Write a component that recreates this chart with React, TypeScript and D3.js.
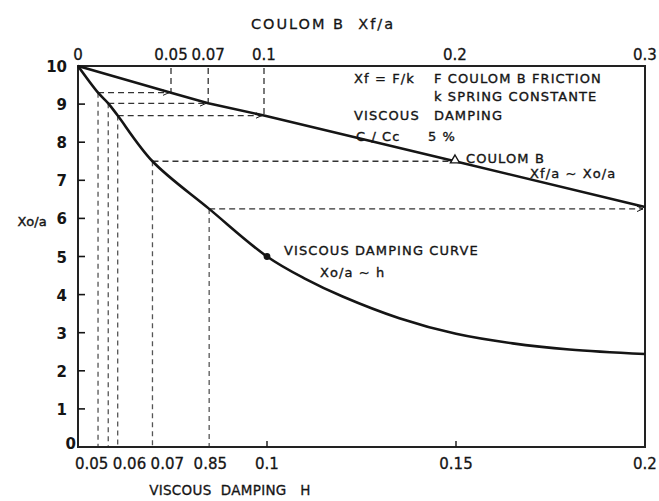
import React from "react";
import * as d3 from "d3";

// Coulomb friction line: Xf/a (top axis) vs Xo/a
const coulombXf = [0, 0.05, 0.07, 0.1, 0.2, 0.3];
const coulombXo = [10, 9.3, 9.02, 8.7, 7.5, 6.3];

// Viscous damping curve: h (bottom axis) vs Xo/a
const viscousH = [0.05, 0.0553, 0.058, 0.0605, 0.0697, 0.0847, 0.1, 0.11, 0.12, 0.135, 0.15, 0.165, 0.18, 0.2];
const viscousXo = [10, 9.3, 9.02, 8.7, 7.5, 6.25, 5.0, 4.42, 3.95, 3.38, 2.97, 2.72, 2.56, 2.44];

// Read-across construction lines (Coulomb Xf -> level Xo/a -> viscous h)
const readXf = [0.05, 0.07, 0.1, 0.2, 0.3];
const readXo = [9.3, 9.02, 8.7, 7.5, 6.25];
const readH = [0.0553, 0.058, 0.0605, 0.0697, 0.0847];

// Axis ticks
const yTicks = [0, 1, 2, 3, 4, 5, 6, 7, 8, 9, 10];
const topTicks = [0, 0.05, 0.07, 0.1, 0.2, 0.3];
const topTickLabels = ["0", "0.05", "0.07", "0.1", "0.2", "0.3"];
const bottomTicks = [0.05, 0.06, 0.07, 0.085, 0.1, 0.15, 0.2];
const bottomTickLabels = ["0.05", "0.06", "0.07", "0.85", "0.1", "0.15", "0.2"];

const W = 659;
const H = 501;
const L = 78, R = 645, T = 66, B = 447;
const INK = "#151515";
const FONT = "'DejaVu Sans', Verdana, sans-serif";

export default function App() {
  const y = d3.scaleLinear().domain([0, 10]).range([B, T]);
  const xTop = d3.scaleLinear().domain([0, 0.1, 0.2, 0.3]).range([L, 264, 455, R]);
  const xBot = d3.scaleLinear().domain([0.05, 0.2]).range([L, R]);

  const coulombLine = d3
    .line<number>()
    .x((_, i) => xTop(coulombXf[i]))
    .y((d) => y(d))(coulombXo) as string;

  const viscousLine = d3
    .line<number>()
    .x((_, i) => xBot(viscousH[i]))
    .y((d) => y(d))
    .curve(d3.curveCatmullRom.alpha(0.5))(viscousXo) as string;

  const tri = d3.symbol().type(d3.symbolTriangle).size(36)() as string;

  return (
    <svg width={W} height={H} style={{ position: "absolute", left: 0, top: 0, background: "#fff" }} fontFamily={FONT}>
      <defs>
        <marker id="arr" viewBox="0 0 10 10" refX="9" refY="5" markerWidth="7" markerHeight="7" orient="auto" markerUnits="userSpaceOnUse">
          <path d="M0,1 L9,5 L0,9" fill="none" stroke={INK} strokeWidth={1.4} />
        </marker>
      </defs>
      <rect x={0} y={0} width={W} height={H} fill="#fff" />

      {/* title */}
      <text x={323} y={29} textAnchor="middle" fontSize={14.5} letterSpacing={2} fill={INK} stroke={INK} strokeWidth={0.3} style={{ whiteSpace: "pre" }}>
        {"COULOM B  Xf/a"}
      </text>

      {/* top tick labels */}
      {topTicks.map((v, i) => (
        <text key={"tt" + i} x={xTop(v)} y={60} textAnchor="middle" fontSize={15} fill={INK} stroke={INK} strokeWidth={0.3}>
          {topTickLabels[i]}
        </text>
      ))}

      {/* construction lines */}
      <g stroke="#333" strokeWidth={1.3} fill="none" strokeDasharray="6,4">
        {readXf.slice(0, 3).map((v, i) => (
          <line key={"vt" + i} x1={xTop(v)} x2={xTop(v)} y1={T + 2} y2={y(readXo[i])} />
        ))}
        {readH.map((h, i) => (
          <line key={"vb" + i} x1={xBot(h)} x2={xBot(h)} y1={y(readXo[i])} y2={B} stroke="#555" strokeDasharray="5,4" />
        ))}
        {readH.map((h, i) => (
          <line
            key={"hz" + i}
            x1={xBot(h)}
            x2={i === 3 ? xTop(readXf[i]) - 6 : xTop(readXf[i]) - 2}
            y1={y(readXo[i])}
            y2={y(readXo[i])}
            markerEnd={i === 3 ? undefined : "url(#arr)"}
          />
        ))}
      </g>

      {/* frame */}
      <rect x={L} y={T} width={R - L} height={B - T} fill="none" stroke="#222" strokeWidth={2} />

      {/* y ticks */}
      {yTicks.filter((v) => v > 0 && v < 10).map((v) => (
        <line key={"yt" + v} x1={L} x2={L + 7} y1={y(v)} y2={y(v)} stroke={INK} strokeWidth={1.6} />
      ))}
      {yTicks.map((v) => (
        <text key={"yl" + v} x={v === 0 ? 76 : 67} y={y(v) + (v === 0 ? 2 : 6)} textAnchor="end" fontSize={15} fontWeight="bold" fill={INK}>
          {v}
        </text>
      ))}

      {/* bottom ticks */}
      {bottomTicks.filter((v) => v >= 0.1 && v < 0.2).map((v) => (
        <line key={"bt" + v} x1={xBot(v)} x2={xBot(v)} y1={B} y2={B - 6} stroke={INK} strokeWidth={1.4} />
      ))}
      {bottomTicks.map((v, i) => (
        <text
          key={"bl" + i}
          x={v < 0.08 ? xBot(v) - 3 : xBot(v)}
          y={469}
          textAnchor={v < 0.08 ? "start" : "middle"}
          fontSize={15}
          fill={INK}
          stroke={INK}
          strokeWidth={0.3}
        >
          {bottomTickLabels[i]}
        </text>
      ))}

      {/* axis labels */}
      <text x={230} y={495} textAnchor="middle" fontSize={13.5} letterSpacing={0.3} fill={INK} stroke={INK} strokeWidth={0.3} style={{ whiteSpace: "pre" }}>
        {"VISCOUS  DAMPING   H"}
      </text>
      <text x={32} y={226} textAnchor="middle" fontSize={13} fill={INK} stroke={INK} strokeWidth={0.4}>
        Xo/a
      </text>

      {/* curves */}
      <path d={coulombLine} fill="none" stroke={INK} strokeWidth={2.6} />
      <path d={viscousLine} fill="none" stroke={INK} strokeWidth={2.6} />

      {/* markers */}
      <path d={tri} transform={`translate(${xTop(0.2)},${y(7.5) - 1})`} fill="#fff" stroke={INK} strokeWidth={1.4} />
      <circle cx={xBot(0.1)} cy={y(5.0)} r={3.4} fill={INK} />

      {/* annotations */}
      <g fontSize={13} letterSpacing={1.1} fill={INK} stroke={INK} strokeWidth={0.35} style={{ whiteSpace: "pre" }}>
        <text x={354} y={83}>Xf = F/k</text>
        <text x={434} y={83}>F COULOM B FRICTION</text>
        <text x={434} y={101}>k SPRING  CONSTANTE</text>
        <text x={354} y={120}>VISCOUS</text>
        <text x={434} y={120}>DAMPING</text>
        <text x={356} y={141}>C / Cc</text>
        <text x={428} y={141}>5 %</text>
        <text x={466} y={163}>COULOM  B</text>
        <text x={530} y={178}>Xf/a ~ Xo/a</text>
        <text x={284} y={255}>VISCOUS  DAMPING  CURVE</text>
        <text x={320} y={277}>Xo/a ~ h</text>
      </g>
    </svg>
  );
}
